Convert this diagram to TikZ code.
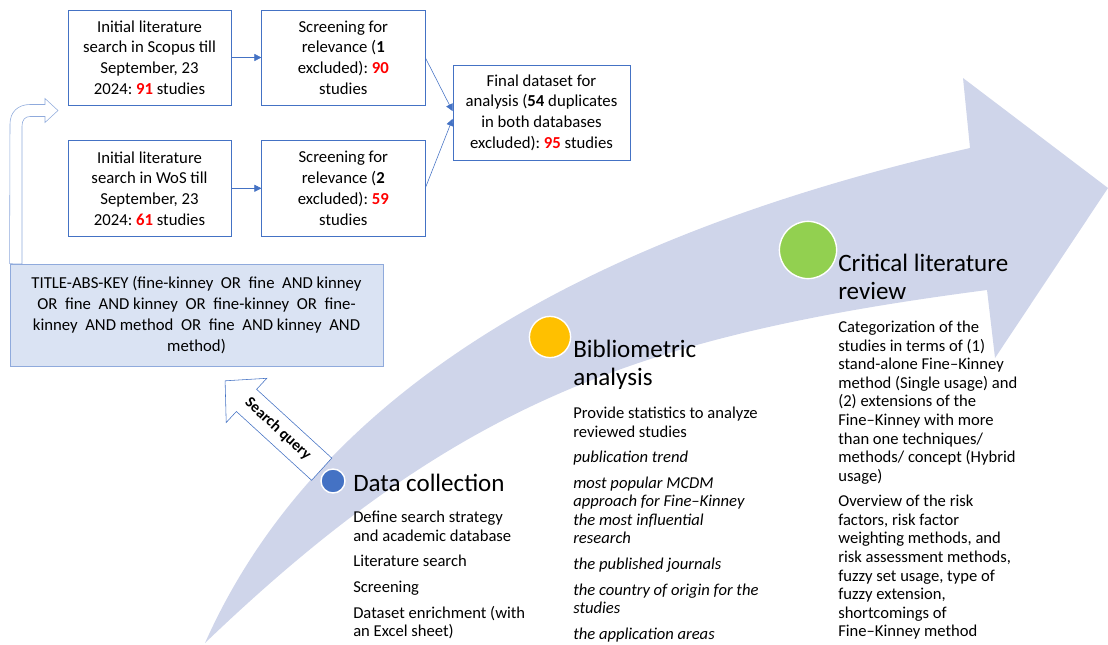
\documentclass[tikz,border=0pt]{standalone}
\usepackage{fontspec}
\setmainfont{Carlito}
\usetikzlibrary{positioning, arrows.meta}
\definecolor{boxblue}{HTML}{4472C4}
\definecolor{paleblue}{HTML}{8FAADC}
\definecolor{queryfill}{HTML}{DAE3F3}
\definecolor{bandfill}{HTML}{CFD5EA}
\definecolor{dotyellow}{HTML}{FFC000}
\definecolor{dotgreen}{HTML}{92D050}
\definecolor{numred}{HTML}{FF0000}
\newcommand{\hl}[1]{\textbf{\textcolor{numred}{#1}}}
\frenchspacing

\begin{document}
\begin{tikzpicture}[x=0.025cm, y=-0.025cm,
    flowbox/.style={rectangle, draw=boxblue, minimum width=4.08cm, minimum height=2.38cm, align=center, inner sep=1pt, font=\fontsize{11.9}{14.7}\selectfont},
    flowarrow/.style={draw=boxblue, -{Triangle[length=5pt, width=5pt]}},
    stage/.style={circle, draw=white, line width=1pt, inner sep=0pt},
    heading/.style={anchor=base west, align=left, inner sep=0pt, font=\fontsize{17.8}{19.5}\selectfont},
    body/.style={anchor=base west, align=left, inner sep=0pt, font=\fontsize{11.8}{13.2}\selectfont}]
    \useasboundingbox (0,0) rectangle (1108,644);

    % Process arrow
    \fill[bandfill] (205,643) .. controls (327,369) and (629,226) .. (970,148) -- (963,78) -- (1108,188) -- (995,358) -- (987,290) .. controls (640,335.5) and (457,401.5) .. cycle;

    % Search boxes
    \node[flowbox] (scopus) at (149.5,57.5) {Initial literature\\search in Scopus till\\September, 23\\2024: \hl{91} studies};
    \node[flowbox, right=0.75cm of scopus] (screen1) {Screening for\\relevance (\textbf{1}\\excluded): \hl{90}\\studies};
    \node[flowbox, below=0.875cm of scopus] (wos) {Initial literature\\search in WoS till\\September, 23\\2024: \hl{61} studies};
    \node[flowbox, right=0.75cm of wos] (screen2) {Screening for\\relevance (\textbf{2}\\excluded): \hl{59}\\studies};
    \node[flowbox, minimum width=4.43cm] (final) at (541.5,112.5) {Final dataset for\\analysis (\textbf{54} duplicates\\in both databases\\excluded): \hl{95} studies};

    \draw[flowarrow] (scopus) -- (screen1);
    \draw[flowarrow] (wos) -- (screen2);
    \draw[flowarrow] (screen1.east) -- ([yshift=1pt]final.west);
    \draw[flowarrow] (screen2.east) -- ([yshift=-4.5pt]final.west);

    % Query
    \node[rectangle, draw=paleblue, fill=queryfill, minimum width=9.33cm, minimum height=2.55cm, align=center, font=\fontsize{11.9}{14.9}\selectfont] (query) at (196.5,315) {TITLE-ABS-KEY (fine-kinney\ \ OR\ \ fine\ \ AND kinney\\OR\ \ fine\ \ AND kinney\ \ OR\ \ fine-kinney\ \ OR\ \ fine-\\kinney\ \ AND method\ \ OR\ \ fine\ \ AND kinney\ \ AND\\method)};
    \draw[paleblue, fill=white] (query.north west) -- (10,124) .. controls (10,112) and (18,104.5) .. (30,104.5) -- (45,104.5) -- (45,98.5) -- (58,110.5) -- (45,122.5) -- (45,116.5) -- (30,116.5) .. controls (25,116.5) and (22,120) .. (22,126) -- (22,264) -- cycle;
    \draw[boxblue, fill=white] (331.8,458.1) -- (256.6,389.3) -- (266.8,378.3) -- (225.1,380.8) -- (226.2,422.5) -- (236.4,411.5) -- (311.6,480.3) -- cycle;
    \node[rotate=-42.5, inner sep=0pt, font=\fontsize{11}{13}\selectfont\bfseries] (querytag) at (278,429) {Search query};

    % Stages
    \node[stage, fill=boxblue, minimum size=0.6cm] (dcdot) at (333,481) {};
    \node[stage, fill=dotyellow, minimum size=1.03cm] (badot) at (550,337) {};
    \node[stage, fill=dotgreen, minimum size=1.43cm] (crdot) at (808,250) {};

    % Labels (anchored at the baseline of the last line)
    \node[heading] (dchead) at (353,491) {Data collection};
    \node[heading] (bahead) at (573,385) {Bibliometric\\analysis};
    \node[heading] (crhead) at (838,299) {Critical literature\\review};

    \node[body] (dcbody) at (353,636.7) {Define search strategy\\and academic database\\[5pt]Literature search\\[5pt]Screening\\[5pt]Dataset enrichment (with\\an Excel sheet)};
    \node[body] (babody) at (573,639.3) {Provide statistics to analyze\\reviewed studies\\[5pt]\textit{publication trend}\\[5pt]\textit{most popular MCDM}\\\textit{approach for Fine–Kinney}\\\textit{the most influential}\\\textit{research}\\[5pt]\textit{the published journals}\\[5pt]\textit{the country of origin for the}\\\textit{studies}\\[5pt]\textit{the application areas}};
    \node[body] (crbody) at (838,636.7) {Categorization of the\\studies in terms of (1)\\stand-alone Fine–Kinney\\method (Single usage) and\\(2) extensions of the\\Fine–Kinney with more\\than one techniques/\\methods/ concept (Hybrid\\usage)\\[5pt]Overview of the risk\\factors, risk factor\\weighting methods, and\\risk assessment methods,\\fuzzy set usage, type of\\fuzzy extension,\\shortcomings of\\Fine–Kinney method};
\end{tikzpicture}
\end{document}
